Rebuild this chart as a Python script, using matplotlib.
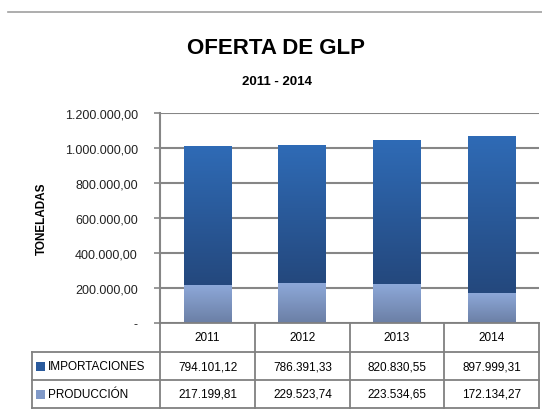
import numpy as np
import matplotlib
matplotlib.use("Agg")
import matplotlib.pyplot as plt
from matplotlib.colors import LinearSegmentedColormap
from matplotlib.lines import Line2D
from matplotlib.patches import Rectangle

plt.rcParams['font.family'] = ['Liberation Sans', 'DejaVu Sans']

# data
years = ['2011', '2012', '2013', '2014']
importaciones = [794101.12, 786391.33, 820830.55, 897999.31]
produccion = [217199.81, 229523.74, 223534.65, 172134.27]
series_names = ['IMPORTACIONES', 'PRODUCCIÓN']
y_ticks = [0, 200000, 400000, 600000, 800000, 1000000, 1200000]


def fmt_es(v, dec=2):
    s = f"{v:,.{dec}f}"
    return s.replace(',', 'X').replace('.', ',').replace('X', '.')


W, H = 542, 414
fig = plt.figure(figsize=(W / 100, H / 100), dpi=100)
grid_col = '#868686'


def fx(px):
    return px / W


def fy(py):
    return 1 - py / H


# top rule
fig.add_artist(Line2D([fx(8), fx(542)], [fy(13), fy(13)], color='#a0a0a0', lw=1.2))

fig.text(fx(276), fy(48), 'OFERTA DE GLP', ha='center', va='center',
         fontsize=16, fontweight='bold')
fig.text(fx(277), fy(82), '2011 - 2014', ha='center', va='center',
         fontsize=9.5, fontweight='bold')

left, right, top, bottom = 160, 539, 114, 324
ax = fig.add_axes([fx(left), fy(bottom), fx(right - left), (bottom - top) / H])

x = np.arange(len(years))
width = 0.5
b_prod = ax.bar(x, produccion, width, color='#8aa4d4', zorder=3)
b_imp = ax.bar(x, importaciones, width, bottom=produccion, color='#2d62a6', zorder=3)

cmap_imp = LinearSegmentedColormap.from_list('imp', ['#24487d', '#2f6bb6'])
cmap_prod = LinearSegmentedColormap.from_list('prod', ['#6b7fa5', '#8ea9da'])
grad = np.linspace(0, 1, 256).reshape(-1, 1)
for bars, cm in ((b_prod, cmap_prod), (b_imp, cmap_imp)):
    for p in bars:
        x0, y0 = p.get_x(), p.get_y()
        im = ax.imshow(grad, cmap=cm, origin='lower', aspect='auto',
                       extent=[x0, x0 + p.get_width(), y0, y0 + p.get_height()],
                       zorder=4)
        im.set_clip_path(p)

ax.set_xlim(-0.5, len(years) - 0.5)
ax.set_ylim(0, 1200000)
ax.set_yticks(y_ticks)
ax.set_yticklabels(['-' if t == 0 else fmt_es(t) for t in y_ticks], fontsize=9,
                   color='#222222')
ax.set_xticks([])
ax.yaxis.grid(True, color=grid_col, lw=1.5, zorder=1)
for s in ('top', 'right', 'bottom'):
    ax.spines[s].set_visible(False)
ax.spines['left'].set_color(grid_col)
ax.spines['left'].set_linewidth(1.5)
ax.tick_params(axis='y', length=4, color=grid_col, width=1.2, pad=12)
ax.set_ylabel('TONELADAS', fontsize=8.5, fontweight='bold', labelpad=12)

# data table below the axes
col_edges = [160, 255, 350, 444, 539]
row_edges = [324, 353, 381, 409]
lab_left = 32
lc = '#808080'
lw = 1.3


def hline(x0, x1, y):
    fig.add_artist(Line2D([fx(x0), fx(x1)], [fy(y), fy(y)], color=lc, lw=lw))


def vline(xx, y0, y1):
    fig.add_artist(Line2D([fx(xx), fx(xx)], [fy(y0), fy(y1)], color=lc, lw=lw))


hline(160, 539, row_edges[0])
hline(lab_left, 539, row_edges[1])
hline(lab_left, 539, row_edges[2])
hline(lab_left, 539, row_edges[3])
for xx in col_edges:
    vline(xx, row_edges[0], row_edges[3])
vline(lab_left, row_edges[1], row_edges[3])

for i, yr in enumerate(years):
    cx = (col_edges[i] + col_edges[i + 1]) / 2
    fig.text(fx(cx), fy((row_edges[0] + row_edges[1]) / 2), yr,
             ha='center', va='center', fontsize=8.5)

sq_colors = ['#2a5a9c', '#8099c8']
for r, (name, vals) in enumerate(zip(series_names, [importaciones, produccion])):
    yc = (row_edges[r + 1] + row_edges[r + 2]) / 2
    fig.add_artist(Rectangle((fx(36), fy(yc + 4.5)), fx(9), 9 / H,
                             facecolor=sq_colors[r], edgecolor='none'))
    fig.text(fx(48), fy(yc), name, ha='left', va='center', fontsize=8.5)
    for i, v in enumerate(vals):
        cx = (col_edges[i] + col_edges[i + 1]) / 2
        fig.text(fx(cx), fy(yc), fmt_es(v), ha='center',
                 va='center', fontsize=8.5)

fig.savefig('out.png', dpi=100)
